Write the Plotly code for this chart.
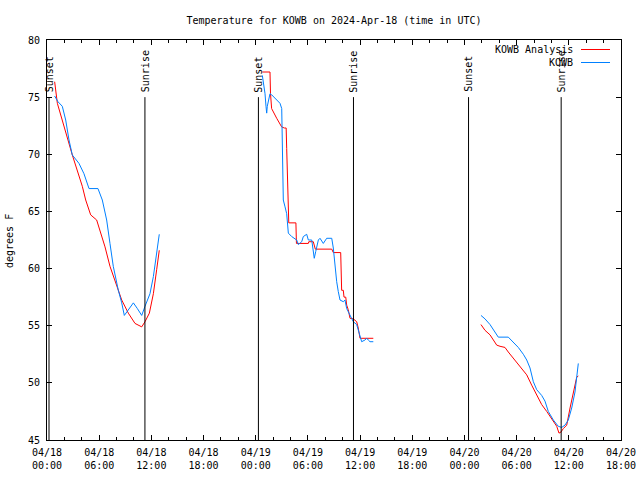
import pandas as pd
import plotly.graph_objects as go

START = pd.Timestamp("2024-04-18 00:00")

# ---- data (hours since 2024-04-18 00:00 UTC, temperature degF) ----
analysis_hours_1 = [0.88, 1.19, 2.91, 3.49, 4.06, 4.45, 5.02, 5.71, 6.09, 6.67, 7.24, 8.01,
                    8.59, 9.35, 10.12, 10.89, 11.27, 11.77, 12.23, 12.61, 12.91]
analysis_temp_1 = [76.35, 74.46, 69.94, 68.6, 67.2, 66.0, 64.7, 64.25, 63.4, 61.9, 60.2, 58.4,
                   57.25, 56.1, 55.2, 54.9, 55.35, 56.1, 57.8, 59.9, 61.6]
obs_hours_1 = [0.88, 1.26, 1.76, 2.15, 2.53, 2.91, 3.68, 4.25, 4.83, 5.86, 6.36, 6.86, 7.24, 7.62, 8.2,
               8.59, 8.89, 9.35, 9.93, 10.39, 10.89, 11.27, 11.84, 12.23, 12.61, 12.91]
obs_temp_1 = [75.1, 74.6, 74.2, 73.0, 71.25, 69.94, 69.2, 68.3, 67.0, 67.0, 66.0, 64.25, 62.2, 60.2, 58.1,
              57.0, 55.9, 56.4, 57.0, 56.5, 55.9, 56.7, 57.8, 59.3, 61.3, 63.0]

analysis_hours_2 = [24.76, 25.64, 25.70, 25.83, 26.41, 26.98, 27.29, 27.50, 27.56, 27.80, 28.62, 28.68,
                    30.05, 30.10, 30.62, 30.85, 32.74, 32.92, 33.77, 33.88, 34.07, 34.15, 34.35, 34.46,
                    34.64, 34.84, 35.22, 35.61, 35.79, 35.99, 37.52]
analysis_temp_2 = [77.2, 77.2, 75.3, 74.0, 73.15, 72.4, 72.3, 72.3, 70.5, 64.0, 64.0, 62.2,
                   62.2, 62.35, 62.35, 61.7, 61.7, 61.4, 61.4, 58.1, 58.1, 57.5, 57.5, 56.8,
                   56.4, 55.65, 55.6, 55.35, 54.8, 53.9, 53.9]
obs_hours_2 = [24.76, 25.07, 25.18, 25.26, 25.33, 25.45, 25.64, 25.84, 26.22, 26.79, 26.99, 27.06, 27.17,
               27.37, 27.56, 27.75, 28.14, 28.71, 28.90, 29.29, 29.47, 29.86, 30.05, 30.44, 30.62, 30.73,
               30.90, 31.01, 31.20, 31.39, 31.77, 32.16, 32.74, 32.92, 33.11, 33.31, 33.49, 33.69, 34.07,
               34.26, 34.46, 34.84, 35.22, 35.61, 35.91, 36.18, 36.56, 36.76, 36.94, 37.14, 37.52]
obs_temp_2 = [76.9, 75.3, 74.2, 73.6, 74.2, 74.75, 75.3, 75.2, 74.9, 74.46, 74.0, 70.4, 66.0,
              65.4, 64.8, 63.1, 62.8, 62.5, 62.1, 62.35, 62.8, 63.0, 62.5, 62.5, 61.5, 60.9,
              61.5, 61.8, 62.5, 62.65, 62.2, 62.65, 62.65, 61.8, 60.3, 58.85, 58.0, 57.25, 57.1,
              57.25, 56.5, 55.9, 55.35, 55.1, 54.35, 53.6, 53.75, 53.9, 53.75, 53.6, 53.6]

analysis_hours_3 = [49.9, 50.36, 50.94, 51.32, 51.71, 52.09, 52.66, 53.04, 53.62, 54.19, 54.77, 55.16,
                    55.73, 56.31, 56.88, 57.46, 58.03, 58.61, 58.87, 59.1, 59.37, 59.76, 60.14, 60.52,
                    60.79, 60.91, 61.09]
analysis_temp_3 = [55.1, 54.6, 54.2, 53.75, 53.3, 53.2, 53.1, 52.7, 52.15, 51.7, 51.1, 50.7,
                   49.8, 48.9, 48.1, 47.5, 46.9, 46.2, 45.6, 45.7, 46.0, 46.3, 47.8, 49.1,
                   50.1, 50.5, 50.6]
obs_hours_3 = [49.9, 50.36, 50.94, 51.51, 51.89, 53.04, 53.62, 54.19, 54.77, 55.16, 55.54, 55.92, 56.31,
               56.88, 57.26, 57.64, 58.22, 58.79, 59.18, 59.56, 59.94, 60.33, 60.71, 60.91, 61.09]
obs_temp_3 = [55.9, 55.6, 55.1, 54.5, 54.0, 54.0, 53.55, 53.1, 52.5, 52.0, 51.3, 50.1, 49.4,
              48.9, 48.4, 47.5, 46.75, 46.2, 46.1, 46.3, 46.75, 47.8, 49.2, 50.5, 51.7]

sun_event_hours = [0.23, 11.26, 24.31, 35.24, 48.47, 59.12]
sun_event_labels = ["Sunset", "Sunrise", "Sunset", "Sunrise", "Sunset", "Sunrise"]

x_tick_hours = [0, 6, 12, 18, 24, 30, 36, 42, 48, 54, 60, 66]
x_tick_labels = ["04/18<br>00:00", "04/18<br>06:00", "04/18<br>12:00", "04/18<br>18:00",
                 "04/19<br>00:00", "04/19<br>06:00", "04/19<br>12:00", "04/19<br>18:00",
                 "04/20<br>00:00", "04/20<br>06:00", "04/20<br>12:00", "04/20<br>18:00"]
y_ticks = [45, 50, 55, 60, 65, 70, 75, 80]

series_names = ["KOWB Analysis", "KOWB"]
series_colors = ["#ff0000", "#0080ff"]


def to_time(hours):
    return [START + pd.Timedelta(hours=h) for h in hours]


def joined(segments):
    xs, ys = [], []
    for hs, ts in segments:
        xs += to_time(hs) + [None]
        ys += list(ts) + [None]
    return xs, ys


FONT = "DejaVu Sans Mono"
fig = go.Figure()

ax, ay = joined([(analysis_hours_1, analysis_temp_1), (analysis_hours_2, analysis_temp_2),
                 (analysis_hours_3, analysis_temp_3)])
ox, oy = joined([(obs_hours_1, obs_temp_1), (obs_hours_2, obs_temp_2), (obs_hours_3, obs_temp_3)])

fig.add_trace(go.Scatter(x=ax, y=ay, mode="lines", name=series_names[0],
                         line=dict(color=series_colors[0], width=1), connectgaps=False, showlegend=False))
fig.add_trace(go.Scatter(x=ox, y=oy, mode="lines", name=series_names[1],
                         line=dict(color=series_colors[1], width=1), connectgaps=False, showlegend=False))

shapes = []
annotations = []
for h, lab in zip(sun_event_hours, sun_event_labels):
    t = START + pd.Timedelta(hours=h)
    shapes.append(dict(type="line", xref="x", yref="y", x0=t, x1=t, y0=45, y1=75,
                       line=dict(color="black", width=1)))
    annotations.append(dict(x=t, y=75.25, xref="x", yref="y", text=lab, textangle=-90,
                            showarrow=False, xanchor="center", yanchor="bottom",
                            font=dict(family=FONT, size=10, color="black")))

# legend (gnuplot style: text right-aligned, sample to the right)
L, R, T, B = 47, 621, 40, 440
def px(xp):
    return (xp - L) / (R - L)
def py(yp):
    return (B - yp) / (B - T)

for i, (nm, col) in enumerate(zip(series_names, series_colors)):
    yy = 49.5 + 13 * i
    annotations.append(dict(x=px(575), y=py(yy), xref="paper", yref="paper", text=nm,
                            showarrow=False, xanchor="right", yanchor="middle",
                            font=dict(family=FONT, size=10, color="black")))
    shapes.append(dict(type="line", xref="paper", yref="paper", x0=px(581), x1=px(610),
                       y0=py(yy), y1=py(yy), line=dict(color=col, width=1)))

annotations.append(dict(x=px(10), y=py(241), xref="paper", yref="paper", text="degrees F",
                        textangle=-90, showarrow=False, xanchor="center", yanchor="middle",
                        font=dict(family=FONT, size=10, color="black")))

fig.update_layout(
    width=640, height=480,
    margin=dict(l=L, r=640 - R, t=T, b=480 - B),
    paper_bgcolor="white", plot_bgcolor="white",
    title=dict(text="Temperature for KOWB on 2024-Apr-18 (time in UTC)", x=0.5, xref="paper",
               y=1 - 20 / 480, yref="container", xanchor="center", yanchor="middle",
               font=dict(family=FONT, size=10, color="black")),
    font=dict(family=FONT, size=10, color="black"),
    shapes=shapes, annotations=annotations,
    xaxis=dict(range=[START, START + pd.Timedelta(hours=66)],
               tickvals=to_time(x_tick_hours), ticktext=x_tick_labels,
               ticks="inside", ticklen=5, tickcolor="black", showline=True, linecolor="black",
               linewidth=1, mirror="ticks", showgrid=False, zeroline=False, automargin=False,
               ticklabelstandoff=3,
               minor=dict(ticks="inside", ticklen=3, dtick=7200000, tick0=START,
                          tickcolor="black", showgrid=False),
               tickfont=dict(family=FONT, size=10)),
    yaxis=dict(range=[45, 80], tickvals=y_ticks, ticks="inside", ticklen=5, tickcolor="black",
               showline=True, linecolor="black", linewidth=1, mirror="ticks", automargin=False,
               ticklabelstandoff=4,
               showgrid=False, zeroline=False, tickfont=dict(family=FONT, size=10)),
)

fig.write_html("out.html", config={"displayModeBar": False},
               post_script="document.body.style.margin='0';document.body.style.overflow='hidden';")
